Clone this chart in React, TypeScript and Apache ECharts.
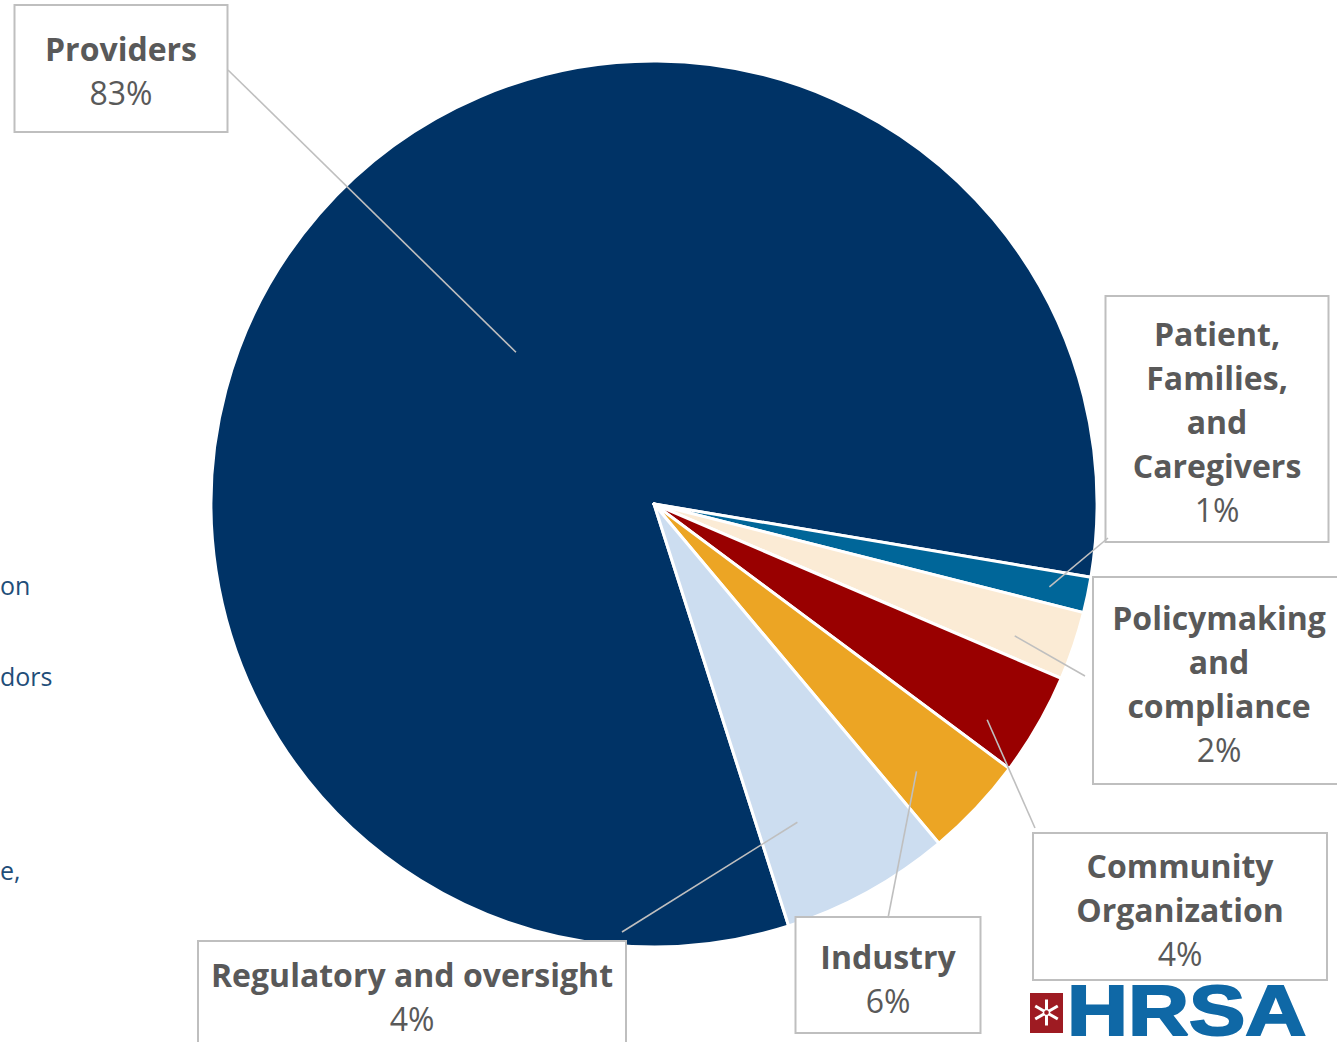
import React, { useEffect, useRef } from "react";
import * as echarts from "echarts";

// ---- data ----
const categories = [
  "Providers",
  "Patient, Families, and Caregivers",
  "Policymaking and compliance",
  "Community Organization",
  "Industry",
  "Regulatory and oversight",
];
const sliceValues = [82.6, 1.3, 2.5, 3.75, 3.7, 6.2];
const labelPercents = ["83%", "1%", "2%", "4%", "6%", "4%"];
const legendFragments = ["on", "dors", "e,"];
const logoText = "HRSA";

// ---- styling / layout ----
const sliceColors = ["#003366", "#006699", "#FBEBD5", "#990000", "#ECA524", "#CCDDF0"];
const CX = 654;
const CY = 504;
const R = 443;
const START = 287.7; // echarts start angle (deg, ccw from east)

// label box layout + leader line (inner radial fraction and angular shift inside the slice)
const labelLayouts = [
  { wrap: [1], cx: 121, top: 6, w: 211, pad: [20, 0, 17, 0], attach: [228, 70], inner: 0.463, shift: 6.8 },
  { wrap: [1, 1, 1, 1], cx: 1217, top: 297, w: 221, pad: [14, 0, 10, 0], attach: [1108, 538], inner: 0.912, shift: 0 },
  { wrap: [1, 1, 1], cx: 1219, top: 578, w: 250, pad: [17, 0, 12, 0], attach: [1085, 676], inner: 0.867, shift: 1.4 },
  { wrap: [1, 1], cx: 1180, top: 834, w: 292, pad: [9, 0, 4, 0], attach: [1035, 828], inner: 0.896, shift: 3 },
  { wrap: [1], cx: 888, top: 918, w: 183, pad: [16, 0, 10, 0], attach: [888, 918], inner: 0.846, shift: 2.2 },
  { wrap: [3], cx: 412, top: 942, w: 426, pad: [10, 0, 30, 0], attach: [622, 932], inner: 0.788, shift: 4.6 },
];
const legendLayout = [
  { x: 0, y: 585 },
  { x: 0, y: 676 },
  { x: 0, y: 870 },
];

function wrapName(name: string, wrap: number[]): string[] {
  const words = name.split(" ");
  const out: string[] = [];
  let k = 0;
  for (const n of wrap) {
    out.push(words.slice(k, k + n).join(" "));
    k += n;
  }
  if (k < words.length) out[out.length - 1] += " " + words.slice(k).join(" ");
  return out;
}

export default function App() {
  const ref = useRef<HTMLDivElement>(null);
  useEffect(() => {
    if (!ref.current) return;
    const chart = echarts.init(ref.current, undefined, { renderer: "svg" });
    const total = sliceValues.reduce((a, b) => a + b, 0);
    const midAngles: number[] = [];
    let cum = 0;
    sliceValues.forEach((v) => {
      midAngles.push((360 - START) + (360 * (cum + v / 2)) / total);
      cum += v;
    });

    const data = categories.map((name, i) => {
      const L = labelLayouts[i];
      return {
        name,
        value: sliceValues[i],
        itemStyle: { color: sliceColors[i] },
        label: {
          width: L.w,
          padding: L.pad,
        },
      };
    });

    const leaderLines = labelLayouts.map((L, i) => {
      const a = ((midAngles[i] + L.shift) * Math.PI) / 180;
      return {
        type: "line",
        silent: true,
        z: 50,
        shape: {
          x1: CX + R * L.inner * Math.cos(a),
          y1: CY + R * L.inner * Math.sin(a),
          x2: L.attach[0],
          y2: L.attach[1],
        },
        style: { stroke: "#BFBFBF", lineWidth: 1.6 },
      };
    });

    const logoCx = 1046.5;
    const logoCy = 1012.5;
    const logoArms = [0, 60, 120].map((deg) => {
      const a = (deg * Math.PI) / 180 + Math.PI / 2;
      const r = 13;
      return {
        type: "line",
        silent: true,
        z: 50,
        shape: {
          x1: logoCx - r * Math.cos(a),
          y1: logoCy - r * Math.sin(a),
          x2: logoCx + r * Math.cos(a),
          y2: logoCy + r * Math.sin(a),
        },
        style: { stroke: "#ffffff", lineWidth: 3 },
      };
    });

    const option: any = {
      animation: false,
      backgroundColor: "#ffffff",
      series: [
        {
          type: "pie",
          center: [CX, CY],
          radius: R,
          startAngle: START,
          clockwise: true,
          avoidLabelOverlap: false,
          silent: true,
          itemStyle: { borderColor: "#ffffff", borderWidth: 3 },
          emphasis: { disabled: true },
          data,
          label: {
            show: true,
            position: "outside",
            backgroundColor: "#ffffff",
            borderColor: "#BFBFBF",
            borderWidth: 2,
            align: "center",
            fontFamily: "Open Sans",
            formatter: (p: any) => {
              const i = p.dataIndex;
              const lines = wrapName(categories[i], labelLayouts[i].wrap);
              return lines.map((l) => `{b|${l}}`).join("\n") + `\n{p|${labelPercents[i]}}`;
            },
            rich: {
              b: {
                fontFamily: "Open Sans",
                fontWeight: "bold",
                fontSize: 32,
                lineHeight: 44,
                color: "#595959",
                align: "center",
              },
              p: {
                fontFamily: "Open Sans",
                fontSize: 32,
                lineHeight: 44,
                color: "#595959",
                align: "center",
              },
            },
          },
          labelLine: { show: false },
          labelLayout: (params: any) => {
            const L = labelLayouts[params.dataIndex];
            return {
              x: L.cx,
              y: L.top,
              align: "center",
              verticalAlign: "top",
            };
          },
        },
      ],
      graphic: [
        ...leaderLines,
        ...legendFragments.map((t, i) => ({
          type: "text",
          x: legendLayout[i].x,
          y: legendLayout[i].y,
          silent: true,
          z: 50,
          style: {
            text: t,
            fill: "#1F4E79",
            font: '25px "Open Sans"',
            verticalAlign: "middle",
            align: "left",
          },
        })),
        {
          type: "rect",
          silent: true,
          z: 50,
          shape: { x: 1030, y: 993, width: 33, height: 40 },
          style: { fill: "#9E1B22" },
        },
        ...logoArms,
        {
          type: "circle",
          silent: true,
          z: 51,
          shape: { cx: logoCx, cy: logoCy, r: 3 },
          style: { fill: "#9E1B22", stroke: "#ffffff", lineWidth: 1.5 },
        },
        {
          type: "text",
          x: 1067,
          y: 1010,
          scaleX: 1.19,
          silent: true,
          z: 50,
          style: {
            text: logoText,
            font: 'bold 71px "Liberation Sans"',
            fill: "#0F68A6",
            stroke: "#0F68A6",
            lineWidth: 2,
            verticalAlign: "middle",
            align: "left",
          },
        },
      ],
    };
    chart.setOption(option);
    return () => chart.dispose();
  }, []);
  return (
    <div
      ref={ref}
      style={{ position: "fixed", left: 0, top: 0, width: 1337, height: 1042, background: "#fff" }}
    />
  );
}
